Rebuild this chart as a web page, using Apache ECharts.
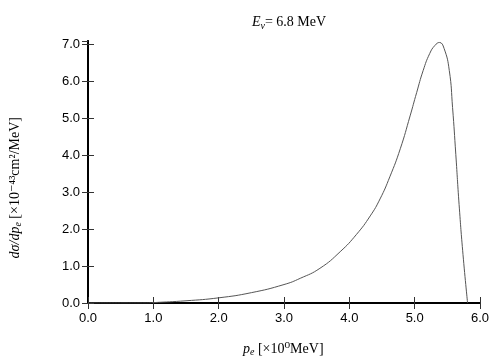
<!DOCTYPE html>
<html>
<head>
<meta charset="utf-8">
<title>E_nu = 6.8 MeV</title>
<script src="https://cdn.jsdelivr.net/npm/echarts@6/dist/echarts.min.js"></script>
<style>
  html, body { margin: 0; padding: 0; background: #fff; }
  #main { width: 504px; height: 360px; }
</style>
</head>
<body>
<div id="main"></div>
<script>
// electron momentum p_e [MeV]
var pe = [0.0, 0.5, 0.9, 1.0, 1.5, 2.0, 2.5, 3.0, 3.25, 3.55, 3.86, 4.11, 4.32, 4.47, 4.62, 4.78,
          4.93, 5.03, 5.13, 5.23, 5.31, 5.38, 5.45, 5.53, 5.58, 5.63, 5.68, 5.74, 5.81];
// dsigma/dp_e [x10^-43 cm^2/MeV]
var dsig = [0.0, 0.0, 0.0, 0.01, 0.06, 0.14, 0.28, 0.5, 0.67, 0.94, 1.39, 1.86, 2.36, 2.82, 3.42, 4.18,
            5.07, 5.70, 6.30, 6.76, 6.98, 7.06, 6.9, 6.3, 5.3, 4.02, 2.67, 1.31, 0.0];
var xTicks = [0, 1, 2, 3, 4, 5, 6];
var yTicks = [0, 1, 2, 3, 4, 5, 6, 7];

var pts = [];
for (var i = 0; i < pe.length; i++) pts.push([pe[i], dsig[i]]);

var serif = '"Liberation Serif", "DejaVu Serif", serif';
var sans = '"Liberation Sans", Arial, sans-serif';

var tick = { show: true, inside: true, length: 6, lineStyle: { color: '#333', width: 1 } };
var line = { show: true, lineStyle: { color: '#000', width: 2 } };
var rich = {
  i: { fontFamily: serif, fontStyle: 'italic', fontSize: 14, color: '#000', fill: '#000' },
  sub: { fontFamily: serif, fontStyle: 'italic', fontSize: 10, color: '#000', fill: '#000', padding: [7, 0, 0, 0] },
  n: { fontFamily: serif, fontSize: 14, color: '#000', fill: '#000' }
};

var chart = echarts.init(document.getElementById('main'));
chart.setOption({
  animation: false,
  backgroundColor: '#fff',
  grid: { left: 88, right: 24, top: 41, bottom: 57 },
  title: {
    text: '{i|E}{sub|ν}{n|= 6.8 MeV}',
    left: 284, top: 9, textAlign: 'center',
    textStyle: { fontWeight: 'normal', rich: rich }
  },
  xAxis: [{
    type: 'value', min: xTicks[0], max: xTicks[xTicks.length - 1], interval: 1,
    axisLine: line, axisTick: tick, splitLine: { show: false },
    axisLabel: { fontFamily: sans, fontSize: 13, color: '#000', margin: 9,
      formatter: function (v) { return v.toFixed(1); } }
  }, {
    type: 'value', position: 'top', min: xTicks[0], max: xTicks[xTicks.length - 1], interval: 1,
    axisLine: line, axisTick: tick, axisLabel: { show: false }, splitLine: { show: false }
  }],
  yAxis: [{
    type: 'value', min: 0, max: 7.1, interval: 1,
    axisLine: line, axisTick: tick, splitLine: { show: false },
    axisLabel: { fontFamily: sans, fontSize: 13, color: '#000', margin: 8, showMaxLabel: false,
      formatter: function (v) { return yTicks.indexOf(v) >= 0 ? v.toFixed(1) : ''; } }
  }, {
    type: 'value', position: 'right', min: 0, max: 7.1, interval: 1,
    axisLine: line, axisTick: tick, axisLabel: { show: false }, splitLine: { show: false }
  }],
  graphic: [{
    type: 'text', left: 8, top: 117, rotation: Math.PI / 2,
    style: {
      text: '{i|dσ/dp}{sub|e}{n| [×10⁻⁴³cm²/MeV]}',
      rich: rich
    }
  }, {
    type: 'text', left: 243, top: 342,
    style: {
      text: '{i|p}{sub|e}{n| [×10⁰MeV]}',
      rich: rich
    }
  }],
  series: [{
    type: 'line', data: pts, showSymbol: false, smooth: 0.5,
    lineStyle: { color: '#555', width: 1 }
  }]
});
</script>
</body>
</html>
